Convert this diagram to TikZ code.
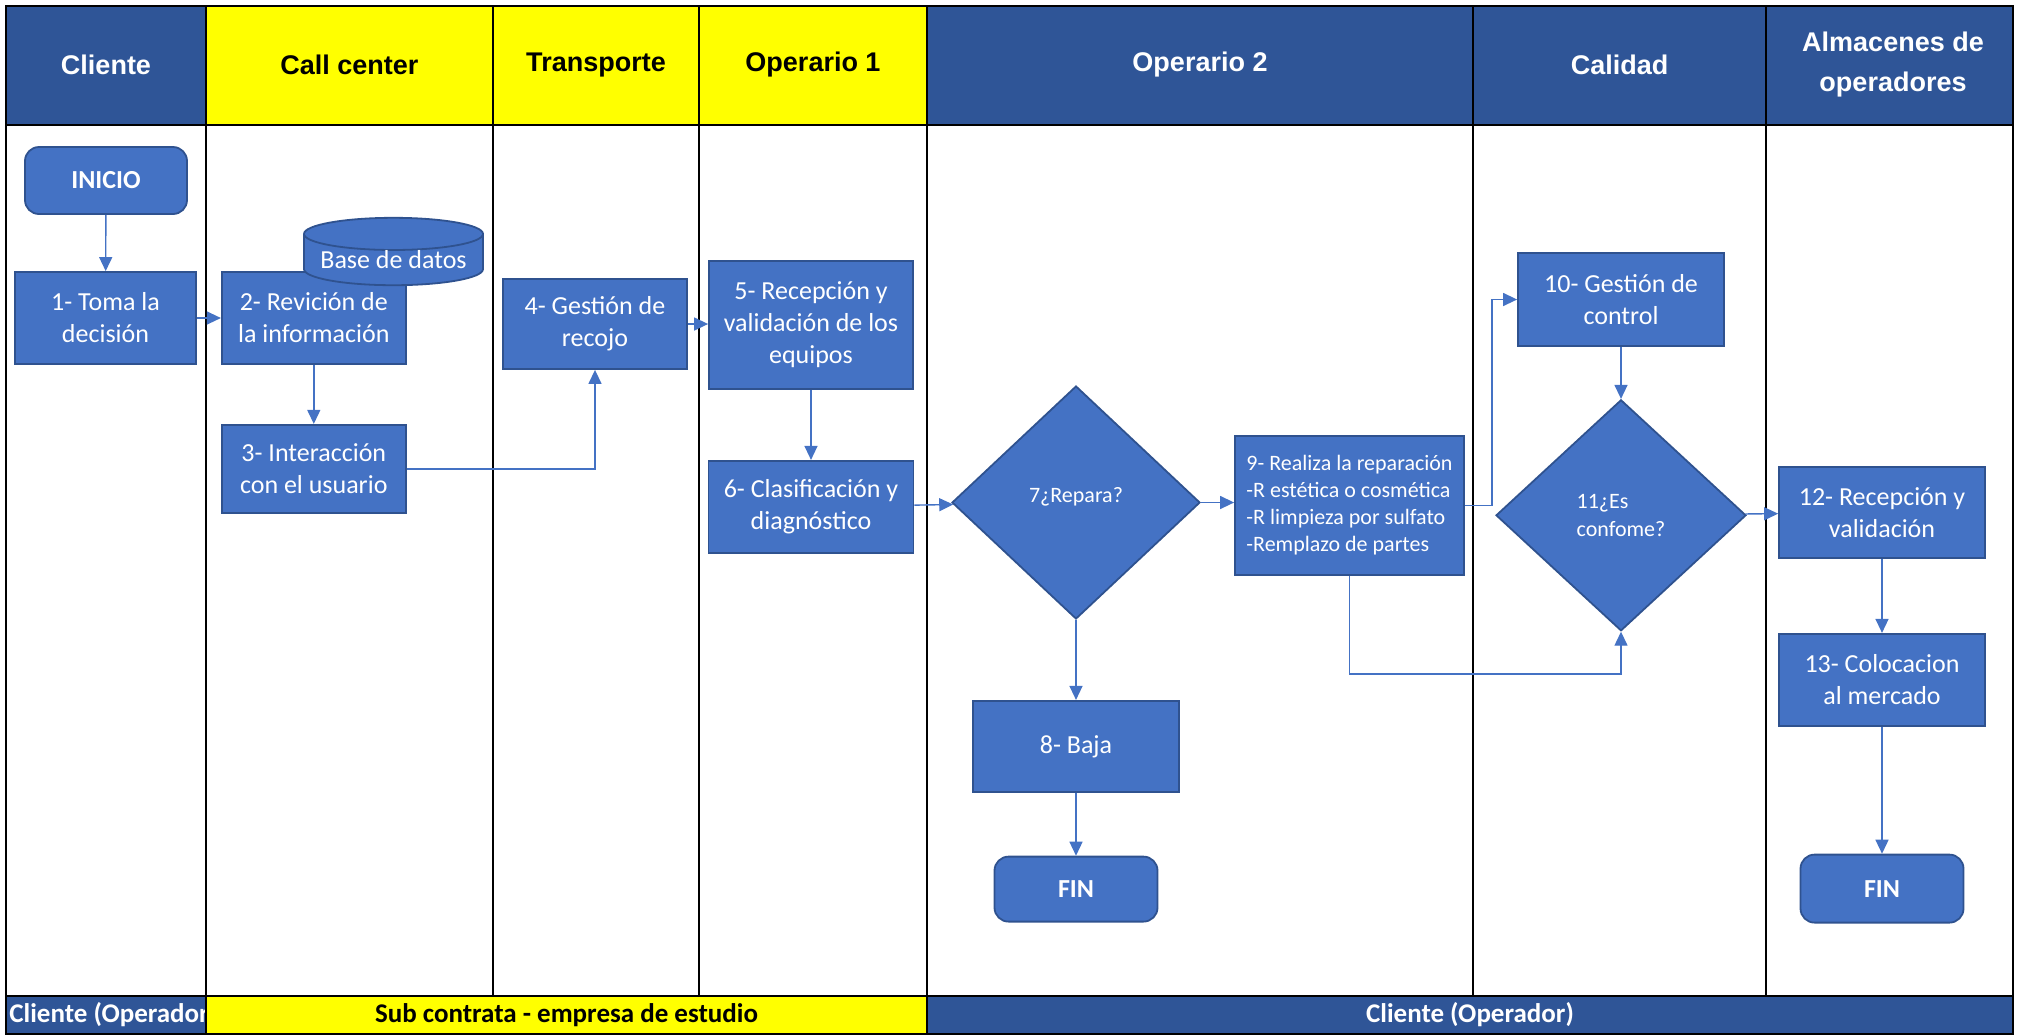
\documentclass[tikz,border=0pt]{standalone}
\usepackage{fontspec}
\setmainfont{Carlito}
\newfontfamily\cabecera{Liberation Sans}
\usetikzlibrary{positioning,shapes.geometric,arrows.meta}

\definecolor{azulcab}{HTML}{2F5597}
\definecolor{caja}{HTML}{4472C4}
\definecolor{borde}{HTML}{2F528F}
\definecolor{amarillo}{HTML}{FFFF00}

\tikzset{
  paso/.style={rectangle, draw=borde, fill=caja, line width=0.9pt, text=white,
    align=center, inner sep=1pt, font=\fontsize{13}{16}\selectfont},
  term/.style={paso, rounded corners=7pt, font=\bfseries\fontsize{13}{16}\selectfont},
  decision/.style={diamond, draw=borde, fill=caja, line width=0.9pt, text=white,
    inner sep=0pt, font=\fontsize{11}{14}\selectfont},
  basedatos/.style={cylinder, shape border rotate=90, aspect=0.22, draw=borde,
    fill=caja, line width=0.9pt, text=white, inner sep=0pt,
    font=\fontsize{13}{16}\selectfont},
  flecha/.style={draw=caja, line width=0.7pt, -{Triangle[length=7pt,width=6.5pt]}},
  carril/.style={draw=black, line width=0.7pt},
  grueso/.style={draw=black, line width=1.3pt},
  titulo/.style={font=\cabecera\bfseries\fontsize{13.5}{20}\selectfont, align=center},
  pie/.style={font=\bfseries\fontsize{13.5}{16}\selectfont},
}

\begin{document}
\begin{tikzpicture}[x=0.5pt, y=-0.5pt]
\useasboundingbox (0,0) rectangle (2018,1035);

% cabecera y pie
\fill[azulcab] (6,6) rectangle (206,125);
\fill[amarillo] (206,6) rectangle (927,125);
\fill[azulcab] (927,6) rectangle (2013,125);
\fill[azulcab] (6,996) rectangle (206,1034);
\fill[amarillo] (206,996) rectangle (927,1034);
\fill[azulcab] (927,996) rectangle (2013,1034);

\begin{scope}
  \clip (6,996) rectangle (206,1034);
  \node[pie, text=white, anchor=west, inner sep=0pt] (f1) at (9,1015) {Cliente (Operador};
\end{scope}
\node[pie] (f2) at (566.5,1015) {Sub contrata - empresa de estudio};
\node[pie, text=white] (f3) at (1470,1015) {Cliente (Operador)};

% carriles
\foreach \x in {493,699,1473,1766}
  \draw[carril] (\x,6) -- (\x,996);
\foreach \x in {206,927}
  \draw[grueso] (\x,6) -- (\x,1034);
\draw[grueso] (6,125) -- (2013,125) (6,996) -- (2013,996);
\draw[grueso] (6,6) rectangle (2013,1034);

\node[titulo, text=white] (h1) at (106,65) {Cliente};
\node[titulo] (h2) at (349.5,65) {Call center};
\node[titulo] (h3) at (596,65) {Transporte};
\node[titulo] (h4) at (813,65) {Operario 1};
\node[titulo, text=white] (h5) at (1200,65) {Operario 2};
\node[titulo, text=white] (h6) at (1619.5,65) {Calidad};
\node[titulo, text=white] (h7) at (1893,65) {Almacenes de\\operadores};

% pasos
\node[term, minimum width=81pt, minimum height=33.5pt] (inicio) at (106,180.5) {INICIO};
\node[paso, minimum width=90.5pt, minimum height=46pt] (p1) at (105.5,318) {1- Toma la\\decisión};
\node[paso, minimum width=92pt, minimum height=46pt, right=12pt of p1] (p2) {2- Revición de\\la información};
\node[paso, minimum width=92pt, minimum height=44pt, below=29.5pt of p2] (p3) {3- Interacción\\con el usuario};
\node[basedatos, minimum width=89.5pt, minimum height=30pt] (bd) at (393.5,260) {Base de datos};
\node[paso, minimum width=92pt, minimum height=45pt] (p4) at (595,324) {4- Gestión de\\recojo};
\node[paso, minimum width=102pt, minimum height=64pt] (p5) at (811,325) {5- Recepción y\\validación de los\\equipos};
\node[paso, minimum width=102.5pt, minimum height=46pt, below=35pt of p5] (p6) {6- Clasificación y\\diagnóstico};
\node[decision, minimum width=124pt, minimum height=116.5pt] (d7) at (1076,502.5) {\raisebox{0pt}[0pt][0pt]{7¿Repara?}};
\node[paso, minimum width=103pt, minimum height=45.5pt, below=40pt of d7] (p8) {8- Baja};
\node[term, minimum width=81.5pt, minimum height=32.5pt, below=31.5pt of p8] (fin1) {FIN};
\node[paso, minimum width=114.5pt, minimum height=69.5pt, align=left,
  font=\fontsize{11}{13.5}\selectfont] (p9) at (1349.5,505.5)
  {9- Realiza la reparación\\-R estética o cosmética\\-R limpieza por sulfato\\-Remplazo de partes};
\node[paso, minimum width=103pt, minimum height=46.5pt] (p10) at (1621,299.5) {10- Gestión de\\control};
\node[decision, minimum width=125pt, minimum height=115.5pt, align=left, below=26pt of p10] (d11) {11¿Es\\confome?};
\node[paso, minimum width=103pt, minimum height=45.5pt] (p12) at (1882,512.5) {12- Recepción y\\validación};
\node[paso, minimum width=103pt, minimum height=46pt, below=37pt of p12] (p13) {13- Colocacion\\al mercado};
\node[term, minimum width=81.5pt, minimum height=34pt, below=63.5pt of p13] (fin2) {FIN};

% flechas
\draw[flecha] (inicio) -- (p1);
\draw[flecha] (p1) -- (p2);
\draw[flecha] (p2) -- (p3);
\draw[flecha] (p3) -| (p4);
\draw[flecha] (p4.east) -- (p4.east -| p5.west);
\draw[flecha] (p5) -- (p6);
\draw[flecha] (p6) -- (d7);
\draw[flecha] (d7.east) -- (d7.east -| p9.west);
\draw[flecha] (d7) -- (p8);
\draw[flecha] (p8) -- (fin1);
\draw[flecha] (p9.east) -- ++(27,0) |- (p10.west);
\draw[flecha] (p10) -- (d11);
\draw[flecha] (p9.south) -- ++(0,98) -| (d11.south);
\draw[flecha] (d11) -- (p12);
\draw[flecha] (p12) -- (p13);
\draw[flecha] (p13) -- (fin2);
\end{tikzpicture}
\end{document}
